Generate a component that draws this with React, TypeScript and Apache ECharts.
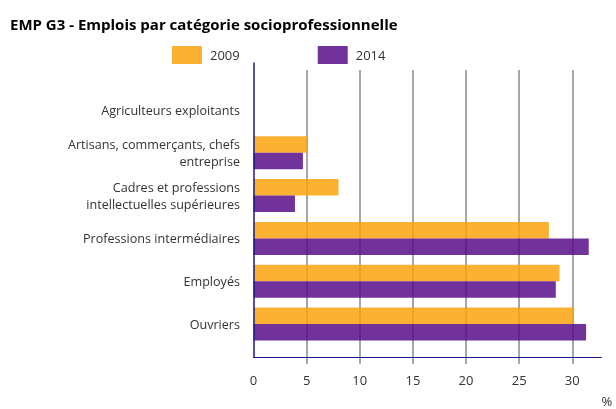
import React, { useEffect, useRef } from "react";
import * as echarts from "echarts";

const categories = [
  "Agriculteurs exploitants",
  "Artisans, commerçants, chefs\nentreprise",
  "Cadres et professions\nintellectuelles supérieures",
  "Professions intermédiaires",
  "Employés",
  "Ouvriers",
];
const values2009 = [0, 5.1, 8.0, 27.8, 28.8, 30.1];
const values2014 = [0, 4.65, 3.9, 31.55, 28.45, 31.3];
const xTicks = { min: 0, max: 32.75, interval: 5 };

const FONT = "'Open Sans', sans-serif";
const LEFT = 253.5;
const RIGHT = 14.5;

export default function App() {
  const ref = useRef<HTMLDivElement>(null);
  useEffect(() => {
    if (!ref.current) return;
    const chart = echarts.init(ref.current, null, { renderer: "svg" });
    const hiddenX = {
      type: "value",
      min: xTicks.min,
      max: xTicks.max,
      interval: xTicks.interval,
      axisLine: { show: false },
      axisTick: { show: false },
      axisLabel: { show: false },
      splitLine: { show: false },
    };
    chart.setOption({
      animation: false,
      title: {
        text: "EMP G3 - Emplois par catégorie socioprofessionnelle",
        left: 5,
        top: 11,
        textStyle: { fontFamily: FONT, fontSize: 15, fontWeight: "bold", color: "#000" },
      },
      legend: {
        left: 167,
        top: 41,
        itemWidth: 30,
        itemHeight: 18,
        itemGap: 78,
        icon: "rect",
        textStyle: { fontFamily: FONT, fontSize: 13, color: "#333", padding: [0, 0, 0, 3] },
        data: ["2009", "2014"],
      },
      grid: [
        { left: LEFT, right: RIGHT, top: 63, bottom: 52 },
        { left: LEFT, right: RIGHT, top: 70, bottom: 45 },
        { left: LEFT, right: RIGHT, top: 88.6, bottom: 63.6 },
      ],
      xAxis: [
        {
          gridIndex: 0,
          type: "value",
          min: xTicks.min,
          max: xTicks.max,
          interval: xTicks.interval,
          axisLine: { show: true, lineStyle: { color: "#1a1a8a", width: 1 } },
          axisTick: { show: false },
          axisLabel: {
            show: true,
            showMaxLabel: false,
            margin: 16,
            fontFamily: FONT,
            fontSize: 13,
            color: "#333",
          },
          splitLine: { show: false },
          name: "%",
          nameLocation: "end",
          nameGap: 0,
          nameTextStyle: {
            fontFamily: FONT,
            fontSize: 13,
            lineHeight: 13,
            color: "#333",
            align: "left",
            verticalAlign: "top",
            padding: [37, 0, 0, 0],
          },
        },
        {
          gridIndex: 1,
          type: "value",
          min: xTicks.min,
          max: xTicks.max,
          interval: xTicks.interval,
          axisLine: { show: false },
          axisTick: { show: false },
          axisLabel: { show: false },
          splitLine: {
            show: true,
            showMinLine: false,
            showMaxLine: false,
            lineStyle: { color: "#888", width: 1.5 },
          },
        },
        { gridIndex: 2, ...hiddenX },
      ],
      yAxis: [
        {
          gridIndex: 0,
          type: "value",
          axisLine: { show: true, lineStyle: { color: "#1a1a8a", width: 1.5 } },
          axisTick: { show: false },
          axisLabel: { show: false },
          splitLine: { show: false },
          z: 5,
        },
        {
          gridIndex: 1,
          type: "value",
          show: false,
          splitLine: { show: false },
        },
        {
          gridIndex: 2,
          type: "category",
          inverse: true,
          data: categories,
          axisLine: { show: false },
          axisTick: { show: false },
          axisLabel: {
            margin: 13.5,
            fontFamily: FONT,
            fontSize: 12.6,
            lineHeight: 17,
            color: "#333",
            align: "right",
          },
          splitLine: { show: false },
        },
      ],
      series: [
        {
          name: "2009",
          type: "bar",
          xAxisIndex: 2,
          yAxisIndex: 2,
          data: values2009,
          barGap: "0%",
          barCategoryGap: "23%",
          itemStyle: { color: "#FAA40F", opacity: 0.85 },
        },
        {
          name: "2014",
          type: "bar",
          xAxisIndex: 2,
          yAxisIndex: 2,
          data: values2014,
          barGap: "0%",
          barCategoryGap: "23%",
          itemStyle: { color: "#580F89", opacity: 0.85 },
        },
      ],
    });
    return () => chart.dispose();
  }, []);
  return (
    <div
      ref={ref}
      style={{ position: "fixed", left: 0, top: 0, width: 616, height: 409 }}
    />
  );
}
